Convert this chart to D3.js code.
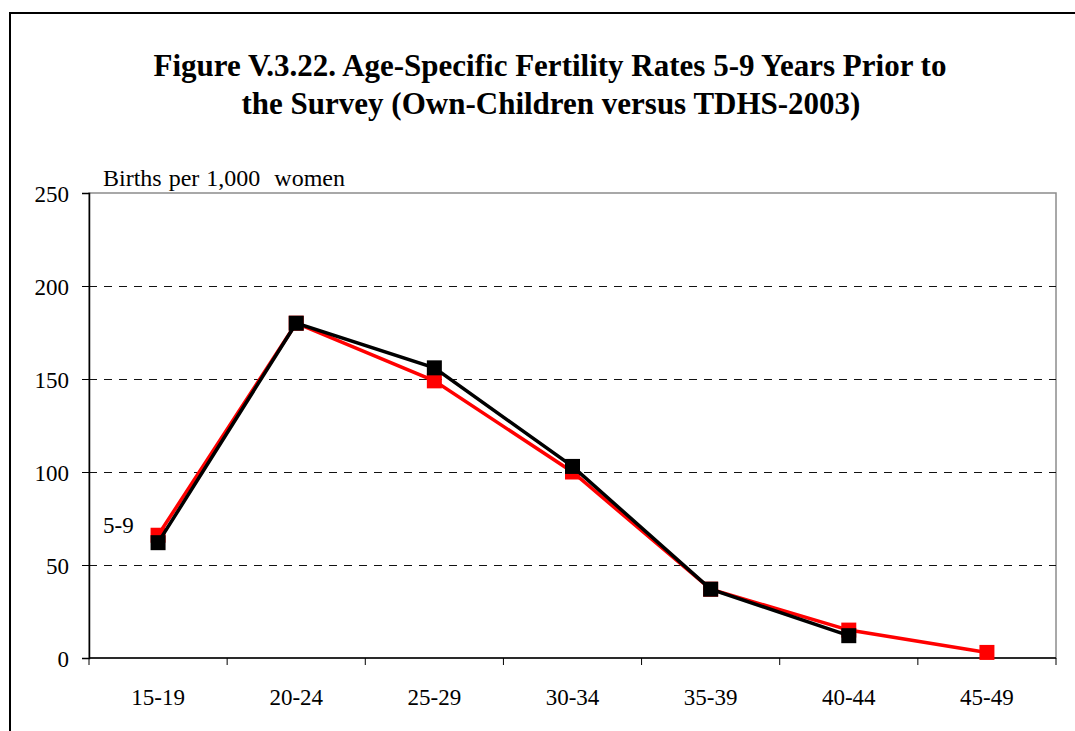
<!DOCTYPE html>
<html>
<head>
<meta charset="utf-8">
<script src="https://cdn.jsdelivr.net/npm/d3@7"></script>
<style>
  body { margin: 0; background: #fff; }
  svg { display: block; }
  svg text { font-family: "Liberation Serif", "Times New Roman", serif; fill: #000; }
</style>
</head>
<body>
<svg id="chart" width="1075" height="731"></svg>
<script>
// data
const ageGroups = ["15-19", "20-24", "25-29", "30-34", "35-39", "40-44", "45-49"];
const tdhsRates = [66, 180, 149, 100, 37, 15, 3];          // red
const ownChildRates = [62, 180, 156, 103, 37, 12, null];   // black
const yTicks = [0, 50, 100, 150, 200, 250];

const margin = { top: 193, right: 19, bottom: 73, left: 89 };
const width = 1075 - margin.left - margin.right;
const height = 731 - margin.top - margin.bottom;

const root = d3.select("#chart");

// outer frame
root.append("rect")
  .attr("x", 10).attr("y", 13)
  .attr("width", 1080).attr("height", 740)
  .attr("fill", "none").attr("stroke", "#000").attr("stroke-width", 2);

// title
const title = root.append("text")
  .attr("text-anchor", "middle")
  .attr("font-weight", "bold")
  .attr("font-size", 31);
title.append("tspan").attr("x", 550).attr("y", 76)
  .text("Figure V.3.22. Age-Specific Fertility Rates 5-9 Years Prior to");
title.append("tspan").attr("x", 551).attr("y", 114)
  .text("the Survey (Own-Children versus TDHS-2003)");

const svg = root.append("g")
  .attr("transform", `translate(${margin.left}, ${margin.top})`);

const x = d3.scaleBand().domain(ageGroups).range([0, width]);
const y = d3.scaleLinear().domain([0, 250]).range([height, 0]);

// plot border
svg.append("rect")
  .attr("width", width).attr("height", height)
  .attr("fill", "none").attr("stroke", "#8c8c8c").attr("stroke-width", 1.5);

// dashed gridlines
svg.selectAll(".grid")
  .data(yTicks.filter((d) => d > 0 && d < 250))
  .enter()
  .append("line")
  .attr("class", "grid")
  .attr("x1", 0).attr("x2", width)
  .attr("y1", (d) => y(d) + 0.5).attr("y2", (d) => y(d) + 0.5)
  .attr("stroke", "#111").attr("stroke-width", 1)
  .attr("stroke-dasharray", "8,7");

// y axis
const yAxis = svg.append("g")
  .call(d3.axisLeft(y).tickValues(yTicks).tickSize(7).tickPadding(13));
yAxis.attr("font-family", null);
yAxis.select(".domain").attr("stroke", "#000").attr("stroke-width", 1.5);
yAxis.selectAll("line").attr("stroke", "#000");
yAxis.selectAll("text").attr("font-size", 23).attr("dy", "0.35em");

// x axis, ticks at band edges
const xAxis = svg.append("g").attr("transform", `translate(0, ${height})`);
xAxis.append("line")
  .attr("x1", 0).attr("x2", width)
  .attr("stroke", "#000").attr("stroke-width", 1.5);
xAxis.selectAll(".xtick")
  .data(ageGroups.concat(["end"]))
  .enter()
  .append("line")
  .attr("x1", (d, i) => i * x.bandwidth())
  .attr("x2", (d, i) => i * x.bandwidth())
  .attr("y1", 0).attr("y2", 7)
  .attr("stroke", "#000");
xAxis.selectAll(".xlabel")
  .data(ageGroups)
  .enter()
  .append("text")
  .attr("x", (d) => x(d) + x.bandwidth() / 2)
  .attr("y", 47)
  .attr("text-anchor", "middle")
  .attr("font-size", 23)
  .text((d) => d);

// axis caption
root.append("text")
  .attr("x", 103).attr("y", 186)
  .attr("font-size", 24)
  .attr("word-spacing", 1)
  .style("white-space", "pre")
  .text("Births per 1,000  women");

// series
const series = [
  { name: "TDHS-2003", values: tdhsRates, color: "#ff0000" },
  { name: "Own-children", values: ownChildRates, color: "#000000" },
];

const line = d3.line()
  .defined((d) => d.v != null)
  .x((d) => x(d.age) + x.bandwidth() / 2)
  .y((d) => y(d.v));

const ms = 15;
series.forEach((s) => {
  const pts = ageGroups.map((age, i) => ({ age, v: s.values[i] }));
  svg.append("path")
    .datum(pts)
    .attr("d", line)
    .attr("fill", "none")
    .attr("stroke", s.color)
    .attr("stroke-width", 3.5);
  svg.selectAll(null)
    .data(pts.filter((d) => d.v != null))
    .enter()
    .append("rect")
    .attr("x", (d) => x(d.age) + x.bandwidth() / 2 - ms / 2)
    .attr("y", (d) => y(d.v) - ms / 2)
    .attr("width", ms).attr("height", ms)
    .attr("fill", s.color);
});

// series label
svg.append("text")
  .attr("x", 14).attr("y", y(66) - 2)
  .attr("font-size", 23)
  .text("5-9");
</script>
</body>
</html>
